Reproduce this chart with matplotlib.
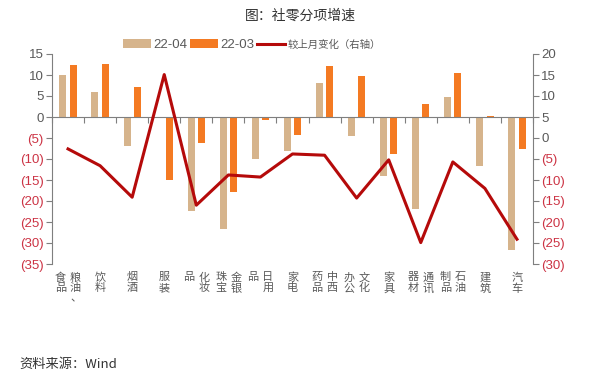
"""社零分项增速：22-04 vs 22-03 柱状 + 较上月变化折线（右轴）。"""

import matplotlib.pyplot as plt
import numpy as np
from matplotlib.ticker import FuncFormatter

plt.rcParams["font.family"] = ["Liberation Sans", "Noto Sans CJK SC", "DejaVu Sans"]

# category labels, one entry per vertical text column (columns read right-to-left)
LABEL_COLUMNS = [
    ["粮油、", "食品"],
    ["饮料"],
    ["烟酒"],
    ["服装"],
    ["化妆", "品"],
    ["金银", "珠宝"],
    ["日用", "品"],
    ["家电"],
    ["中西", "药品"],
    ["文化", "办公"],
    ["家具"],
    ["通讯", "器材"],
    ["石油", "制品"],
    ["建筑"],
    ["汽车"],
]
apr_22 = [9.9, 6.0, -7.0, 0.0, -22.3, -26.7, -10.1, -8.1, 8.0, -4.6, -14.0, -21.9, 4.8, -11.7, -31.6]
mar_22 = [12.5, 12.6, 7.1, -15.1, -6.3, -17.9, -0.8, -4.3, 12.1, 9.7, -8.8, 3.0, 10.5, 0.3, -7.5]
mom_change = [-2.6, -6.6, -14.1, 15.1, -16.0, -8.8, -9.3, -3.8, -4.1, -14.3, -5.2, -24.9, -5.7, -12.0, -24.1]

TAN = "#D6B48C"
ORANGE = "#F47A22"
LINE_RED = "#B50A0A"
GRAY = "#595959"
NEG_RED = "#CC3344"
AXIS_GRAY = "#7F7F7F"
CJK = ["Noto Sans CJK SC", "DejaVu Sans"]


def paren_fmt(v, _pos):
    v = int(round(v))
    return f"({abs(v)})" if v < 0 else f"{v}"


def color_ticklabels(axis):
    for lab in axis.get_yticklabels():
        txt = lab.get_text()
        lab.set_color(NEG_RED if txt.startswith("(") else GRAY)


fig = plt.figure(figsize=(6.0, 3.82), dpi=100)
ax = fig.add_axes([52 / 600, 118 / 382, 481 / 600, 210 / 382])
ax2 = ax.twinx()

x = np.arange(len(LABEL_COLUMNS))
w = 0.22
ax.bar(x - 0.16, apr_22, width=w, color=TAN, label="22-04", zorder=2)
ax.bar(x + 0.16, mar_22, width=w, color=ORANGE, label="22-03", zorder=2)
ax2.plot(x, mom_change, color=LINE_RED, linewidth=2.2, label="较上月变化（右轴）", zorder=3)

ax.set_xlim(-0.5, len(LABEL_COLUMNS) - 0.5)
ax.set_ylim(-35, 15)
ax2.set_ylim(-30, 20)
ax.set_yticks(np.arange(-35, 16, 5))
ax2.set_yticks(np.arange(-30, 21, 5))
ax.yaxis.set_major_formatter(FuncFormatter(paren_fmt))
ax2.yaxis.set_major_formatter(FuncFormatter(paren_fmt))

# x axis on the zero line, ticks at category boundaries
ax.spines["bottom"].set_position(("data", 0))
ax.set_xticks(np.arange(-0.5, len(LABEL_COLUMNS), 1))
ax.set_xticklabels([])
ax.tick_params(axis="x", direction="out", length=4, color=AXIS_GRAY, width=0.8)

for a in (ax, ax2):
    a.spines["top"].set_visible(False)
    for s in ("left", "right", "bottom"):
        a.spines[s].set_color(AXIS_GRAY)
        a.spines[s].set_linewidth(0.8)
    a.tick_params(axis="y", direction="out", length=4, color=AXIS_GRAY, width=0.8,
                  labelsize=9.5, pad=2)
ax2.spines["bottom"].set_visible(False)
ax.spines["right"].set_visible(False)
ax2.spines["left"].set_visible(False)

fig.canvas.draw()
color_ticklabels(ax)
color_ticklabels(ax2)

# vertical category labels below the plot
trans = ax.get_xaxis_transform()
col_w = 0.47
for i, cols in enumerate(LABEL_COLUMNS):
    n = len(cols)
    for j, col in enumerate(cols):
        cx = i + (n - 1) / 2 * col_w - j * col_w
        ax.text(cx, -0.04, "\n".join(col), transform=trans, ha="center", va="top",
                fontsize=8, color=GRAY, family=CJK, linespacing=1.05)

handles = ax.get_legend_handles_labels()[0] + ax2.get_legend_handles_labels()[0]
labels = ["22-04", "22-03", "较上月变化（右轴）"]
leg = fig.legend(handles, labels, loc="center", bbox_to_anchor=(0.42, 0.882), ncol=3,
                 frameon=False, fontsize=9.5, handlelength=2.1, handleheight=0.7,
                 columnspacing=0.2, handletextpad=0.2, labelcolor=GRAY)
leg.get_texts()[2].set_fontsize(7.5)
leg.get_texts()[2].set_family(CJK)

fig.text(0.5, 0.958, "图：社零分项增速", ha="center", va="center", fontsize=10,
         color="#333333", family=CJK)
fig.text(0.033, 0.045, "资料来源：Wind", ha="left", va="center", fontsize=9.5,
         color="#333333", family=CJK)

fig.savefig("out.png", dpi=100)
